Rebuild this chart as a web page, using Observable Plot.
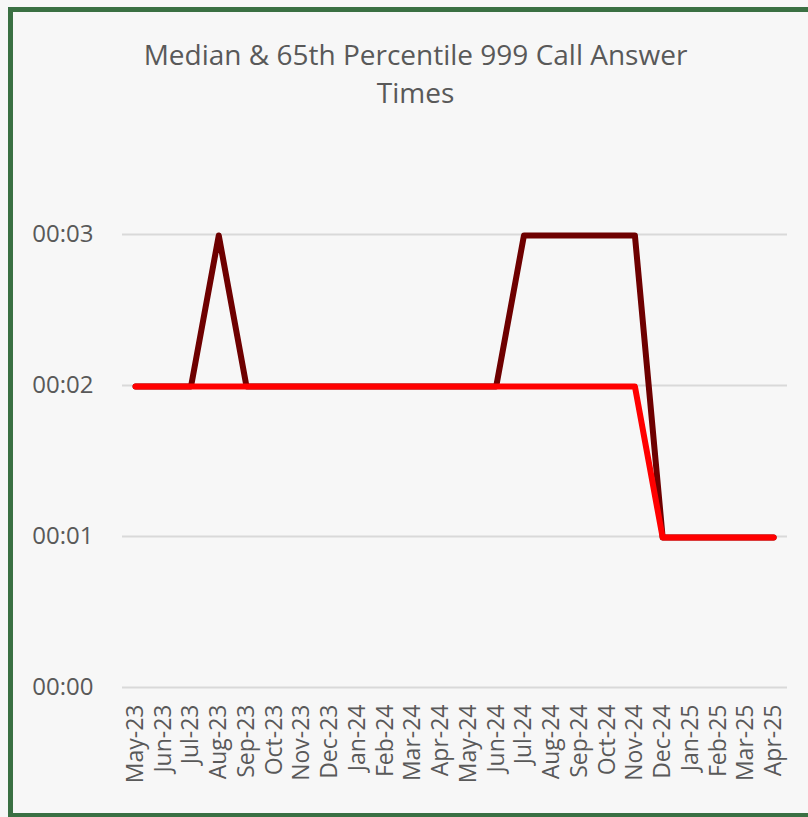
<!DOCTYPE html>
<html>
<head>
<meta charset="utf-8">
<script src="https://cdn.jsdelivr.net/npm/d3@7"></script>
<script src="https://cdn.jsdelivr.net/npm/@observablehq/plot@0.6"></script>
<style>
  html, body { margin: 0; padding: 0; background: #f7f7f7; }
  #wrap { position: relative; width: 808px; height: 817px; overflow: hidden; background: #f7f7f7; font-family: "Open Sans", "Noto Sans", sans-serif; }
  #frame { position: absolute; left: 8px; top: 7px; width: 820px; height: 811px; box-sizing: border-box; border: 5px solid #3a7043; }
  #title { position: absolute; left: 0; width: 831px; top: 35px; text-align: center; color: #595959; font-size: 28px; line-height: 38px; }
  #chart { position: absolute; left: 0; top: 0; }
</style>
</head>
<body>
<div id="wrap">
  <div id="frame"></div>
  <div id="chart"></div>
  <div id="title">Median &amp; 65th Percentile 999 Call Answer<br>Times</div>
</div>
<script>
const months = ["May-23","Jun-23","Jul-23","Aug-23","Sep-23","Oct-23","Nov-23","Dec-23","Jan-24","Feb-24","Mar-24","Apr-24","May-24","Jun-24","Jul-24","Aug-24","Sep-24","Oct-24","Nov-24","Dec-24","Jan-25","Feb-25","Mar-25","Apr-25"];
const p65Seconds   = [2,2,2,3,2,2,2,2,2,2,2,2,2,2,3,3,3,3,3,1,1,1,1,1];
const medianSeconds = [2,2,2,2,2,2,2,2,2,2,2,2,2,2,2,2,2,2,2,1,1,1,1,1];
const yTicks = [0,1,2,3];

const p65 = months.map((m, i) => ({i, month: m, value: p65Seconds[i]}));
const med = months.map((m, i) => ({i, month: m, value: medianSeconds[i]}));
const idx = months.map((m, i) => i);

const chart = Plot.plot({
  width: 808,
  height: 817,
  marginTop: 234,
  marginBottom: 130,
  marginLeft: 122,
  marginRight: 21,
  style: {background: "transparent", fontFamily: "'Open Sans', 'Noto Sans', sans-serif", color: "#595959"},
  x: {type: "linear", domain: [-0.47, months.length - 0.5], label: null},
  y: {domain: [0, 3], ticks: yTicks, label: null},
  marks: [
    Plot.ruleY(yTicks, {stroke: "#d9d9d9", strokeWidth: 2}),
    Plot.axisY({ticks: yTicks, tickSize: 0, tickPadding: 29, fontSize: 24, fill: "#595959", tickFormat: d => "00:0" + d, label: null}),
    Plot.axisX({ticks: idx, tickSize: 0, tickRotate: -90, tickPadding: 17, fontSize: 23, fill: "#595959", tickFormat: i => months[i], label: null}),
    Plot.line(p65, {x: "i", y: "value", dy: 1, stroke: "#6e0000", strokeWidth: 6, strokeLinejoin: "round", strokeLinecap: "round"}),
    Plot.line(med, {x: "i", y: "value", dy: 1, stroke: "#ff0000", strokeWidth: 6, strokeLinejoin: "round", strokeLinecap: "round"})
  ]
});
document.getElementById("chart").appendChild(chart);
</script>
</body>
</html>
